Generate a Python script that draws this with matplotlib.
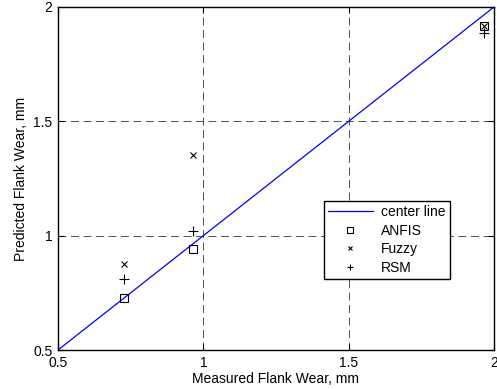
import matplotlib
matplotlib.use('Agg')
import matplotlib.pyplot as plt
import numpy as np

plt.rcParams['font.family'] = ['Liberation Sans', 'DejaVu Sans']
plt.rcParams['font.size'] = 10

measured = [0.728, 0.966, 1.967]
anfis = [0.728, 0.941, 1.918]
fuzzy = [0.876, 1.353, 1.918]
rsm = [0.809, 1.021, 1.887]
center = [0.5, 2.0]
ticks = [0.5, 1, 1.5, 2]
tick_labels = ['0.5', '1', '1.5', '2']

fig = plt.figure(figsize=(4.97, 3.89), dpi=100)
ax = fig.add_axes([58/497, 1-350/389, 436/497, 343/389])

ax.plot(center, center, color='b', lw=0.9, label='center line')
ax.plot(measured, anfis, ls='none', marker='s', mfc='none', mec='k', ms=6, mew=0.8, label='ANFIS')
ax.plot(measured, fuzzy, ls='none', marker='x', color='k', ms=4.5, mew=0.8, label='Fuzzy')
ax.plot(measured, rsm, ls='none', marker='+', color='k', ms=7, mew=0.8, label='RSM')

ax.set_xlim(0.5, 2)
ax.set_ylim(0.5, 2)
ax.set_xticks(ticks)
ax.set_xticklabels(tick_labels)
ax.set_yticks(ticks)
ax.set_yticklabels(tick_labels)
ax.tick_params(direction='in', length=4, width=0.8, top=True, right=True, pad=4)
ax.grid(True, color='0.2', ls=(0, (9.5, 5.5)), lw=0.6)
for s in ax.spines.values():
    s.set_linewidth(1.0)

ax.set_xlabel('Measured Flank Wear, mm', labelpad=2)
ax.set_ylabel('Predicted Flank Wear, mm', labelpad=4)

leg = ax.legend(loc='upper left', bbox_to_anchor=(266/436, 1-194/343), fancybox=False,
                edgecolor='k', framealpha=1, handlelength=3.2, borderpad=0.3,
                labelspacing=0.33, handletextpad=0.6, borderaxespad=0, markerscale=0.65)
leg.get_frame().set_linewidth(1.0)

fig.savefig('out.png', dpi=100)
